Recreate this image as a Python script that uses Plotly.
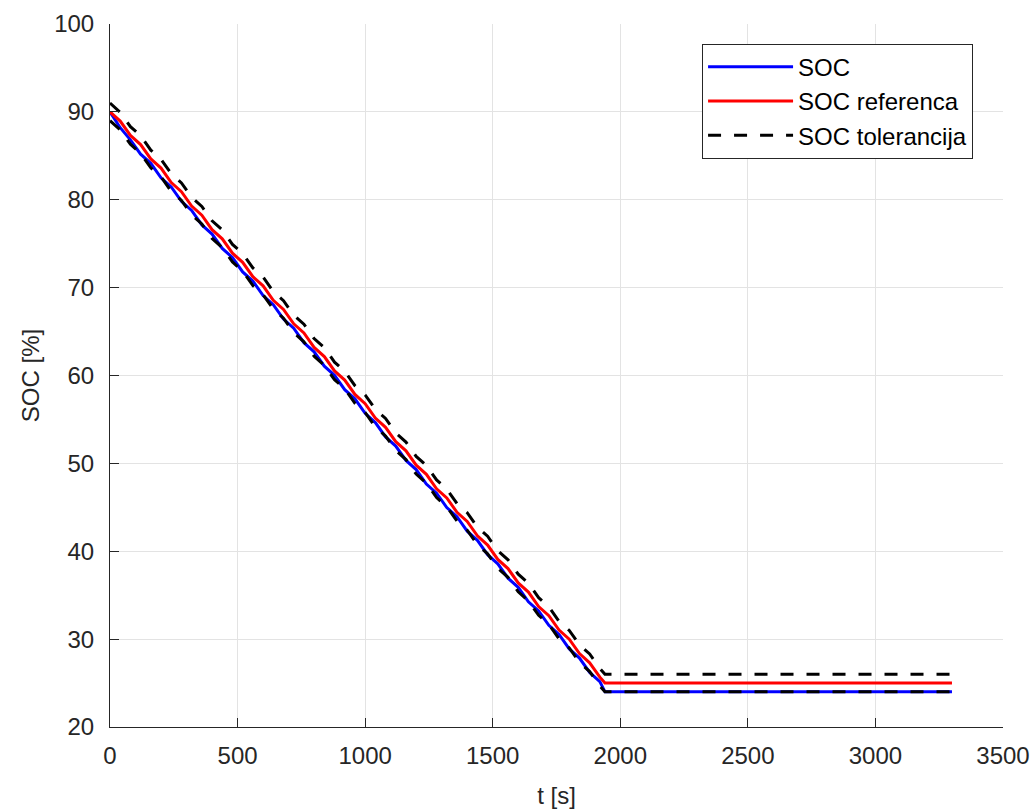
import plotly.graph_objects as go

# time samples [s]
t = [0, 40, 80, 120, 160, 200, 240, 280, 320, 360, 400, 440, 480, 520, 560,
     600, 640, 680, 720, 760, 800, 840, 880, 920, 960, 1000, 1040, 1080, 1120,
     1160, 1200, 1240, 1280, 1320, 1360, 1400, 1440, 1480, 1520, 1560, 1600,
     1640, 1680, 1720, 1760, 1800, 1840, 1880, 1920, 1940, 3300]

soc_ref = [90.00, 88.96, 87.32, 86.28, 84.64, 83.60, 81.96, 80.92, 79.28, 78.24,
           76.60, 75.56, 73.92, 72.88, 71.24, 70.20, 68.56, 67.52, 65.88, 64.84,
           63.20, 62.16, 60.52, 59.48, 57.84, 56.79, 55.15, 54.11, 52.47, 51.43,
           49.79, 48.75, 47.11, 46.07, 44.43, 43.39, 41.75, 40.71, 39.07, 38.03,
           36.39, 35.35, 33.71, 32.67, 31.03, 29.99, 28.35, 27.31, 25.67, 25.00,
           25.00]

soc = [90.00, 88.20, 86.82, 85.18, 84.14, 82.50, 81.46, 79.82, 78.78, 77.14,
       76.10, 74.46, 73.42, 71.78, 70.74, 69.10, 68.06, 66.42, 65.38, 63.74,
       62.70, 61.06, 60.02, 58.38, 57.34, 55.69, 54.65, 53.01, 51.97, 50.33,
       49.29, 47.65, 46.61, 44.97, 43.93, 42.29, 41.25, 39.61, 38.57, 36.93,
       35.89, 34.25, 33.21, 31.57, 30.53, 28.89, 27.85, 26.21, 25.17, 24.00,
       24.00]

tolerance = 1.0
tol_upper = [v + tolerance for v in soc_ref]
tol_lower = [v - tolerance for v in soc_ref]

x_ticks = [0, 500, 1000, 1500, 2000, 2500, 3000, 3500]
y_ticks = [20, 30, 40, 50, 60, 70, 80, 90, 100]

AX = "#262626"
GRID = "#e3e3e3"
FONT = "Liberation Sans, Arial, sans-serif"
FS = 24

fig = go.Figure()
fig.add_trace(go.Scatter(x=t, y=soc, mode="lines", name="SOC",
                         line=dict(color="#0000ff", width=3)))
fig.add_trace(go.Scatter(x=t, y=soc_ref, mode="lines", name="SOC referenca",
                         line=dict(color="#ff0000", width=3)))
fig.add_trace(go.Scatter(x=t, y=tol_upper, mode="lines", name="SOC tolerancija",
                         legendgroup="tol",
                         line=dict(color="#000000", width=3, dash="13px,13px")))
fig.add_trace(go.Scatter(x=t, y=tol_lower, mode="lines", name="SOC tolerancija",
                         legendgroup="tol", showlegend=False,
                         line=dict(color="#000000", width=3, dash="13px,13px")))

fig.update_layout(
    width=1032, height=810,
    margin=dict(l=110, r=29, t=24, b=83),
    paper_bgcolor="white", plot_bgcolor="white",
    font=dict(family=FONT, size=FS, color=AX),
    showlegend=True,
    legend=dict(x=0.663, y=0.972, xanchor="left", yanchor="top",
                bgcolor="white", bordercolor=AX, borderwidth=1,
                font=dict(family=FONT, size=FS, color="#000000"),
                itemwidth=85, tracegroupgap=0),
)
fig.update_xaxes(range=[0, 3500], tickvals=x_ticks, showgrid=True,
                 gridcolor=GRID, gridwidth=1, zeroline=False,
                 showline=True, linecolor=AX, linewidth=1,
                 ticks="inside", ticklen=9, tickcolor=AX,
                 ticklabelstandoff=7,
                 tickfont=dict(size=FS, color=AX), automargin=False,
                 title=dict(text="t [s]", font=dict(size=FS, color=AX), standoff=19))
fig.update_yaxes(range=[20, 100], tickvals=y_ticks, showgrid=True,
                 gridcolor=GRID, gridwidth=1, zeroline=False,
                 showline=True, linecolor=AX, linewidth=1,
                 ticks="inside", ticklen=9, tickcolor=AX,
                 ticklabelstandoff=10,
                 tickfont=dict(size=FS, color=AX), automargin=False,
                 title=dict(text="SOC [%]", font=dict(size=FS, color=AX), standoff=7))

fig.write_html("out.html", config={"displayModeBar": False},
               post_script="document.body.style.margin='0';")
